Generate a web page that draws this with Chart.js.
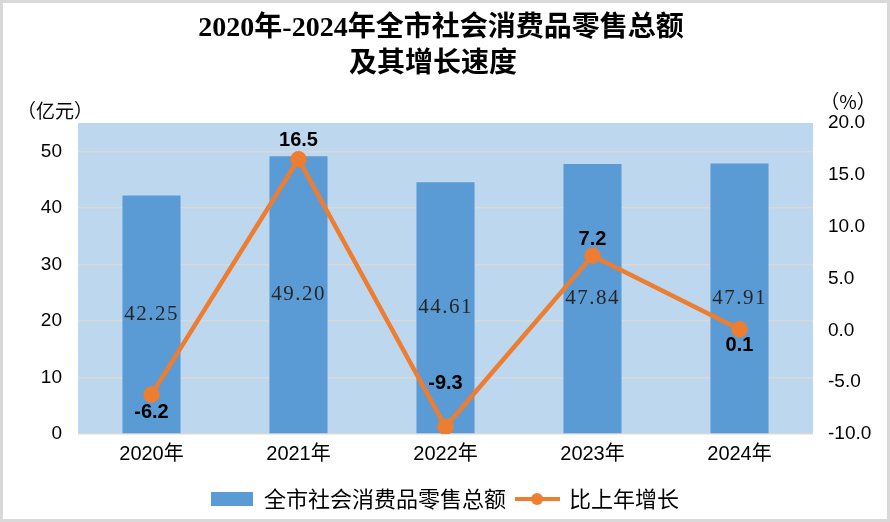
<!DOCTYPE html>
<html>
<head>
<meta charset="utf-8">
<script src="https://cdn.jsdelivr.net/npm/chart.js@4"></script>
<style>
  html, body { margin: 0; padding: 0; background: #fff; }
  #wrap { position: relative; width: 890px; height: 522px; }
</style>
</head>
<body>
<div id="wrap"><canvas id="chart" width="890" height="522"></canvas></div>
<script>
// 数据
const years = ["2020年", "2021年", "2022年", "2023年", "2024年"];
const retailSales = [42.25, 49.20, 44.61, 47.84, 47.91]; // 亿元
const growthRate = [-6.2, 16.5, -9.3, 7.2, 0.1]; // %
const leftTicks = [0, 10, 20, 30, 40, 50];
const rightTicks = [-10, -5, 0, 5, 10, 15, 20];

const titleLines = ["2020年-2024年全市社会消费品零售总额", "及其增长速度"];
const seriesNames = ["全市社会消费品零售总额", "比上年增长"];

const BAR_COLOR = "#5B9BD5";
const LINE_COLOR = "#ED7D31";
const SANS = '"Liberation Sans", "Noto Sans CJK SC", sans-serif';
const CJK = '"Noto Sans CJK SC", "Liberation Sans", sans-serif';

// 图例里折线的小图标
function lineSwatch() {
  const c = document.createElement("canvas");
  c.width = 45;
  c.height = 14;
  const g = c.getContext("2d");
  g.strokeStyle = LINE_COLOR;
  g.lineWidth = 4;
  g.beginPath();
  g.moveTo(0, 7);
  g.lineTo(45, 7);
  g.stroke();
  g.fillStyle = LINE_COLOR;
  g.beginPath();
  g.arc(22.5, 7, 6, 0, Math.PI * 2);
  g.fill();
  return c;
}
const lineIcon = lineSwatch();

const ctx = document.getElementById("chart").getContext("2d");

new Chart(ctx, {
  data: {
    labels: years,
    datasets: [
      {
        type: "line",
        label: seriesNames[1],
        data: growthRate,
        yAxisID: "y1",
        borderColor: LINE_COLOR,
        backgroundColor: LINE_COLOR,
        borderWidth: 4.5,
        pointRadius: 6,
        pointHoverRadius: 6,
        tension: 0,
        order: 0,
      },
      {
        type: "bar",
        label: seriesNames[0],
        data: retailSales,
        yAxisID: "y",
        backgroundColor: BAR_COLOR,
        categoryPercentage: 1,
        barPercentage: 0.395,
        order: 1,
      },
    ],
  },
  options: {
    responsive: false,
    animation: false,
    layout: { padding: { top: 123, left: 0, right: 0, bottom: 2 } },
    plugins: {
      title: { display: false },
      tooltip: { enabled: false },
      legend: {
        position: "bottom",
        reverse: true,
        labels: {
          usePointStyle: true,
          pointStyleWidth: 42,
          boxHeight: 14,
          padding: 10,
          color: "#000",
          font: { family: CJK, size: 22 },
          generateLabels: (chart) =>
            chart.data.datasets.map((ds, i) => ({
              text: ds.label,
              datasetIndex: i,
              fillStyle: ds.type === "bar" ? BAR_COLOR : LINE_COLOR,
              strokeStyle: ds.type === "bar" ? BAR_COLOR : LINE_COLOR,
              lineWidth: 0,
              pointStyle: ds.type === "bar" ? "rect" : lineIcon,
              fontColor: "#000",
            })),
        },
      },
    },
    scales: {
      x: {
        grid: { display: false, drawTicks: false },
        border: { display: false },
        ticks: { color: "#000", padding: 8, font: { family: SANS, size: 20 } },
        afterFit: (s) => { s.height = 44; },
      },
      y: {
        position: "left",
        min: 0,
        max: 55.1,
        afterBuildTicks: (s) => { s.ticks = leftTicks.map((v) => ({ value: v })); },
        grid: { color: "#D9D9D9", lineWidth: 1.5, drawTicks: false },
        border: { display: false },
        ticks: { color: "#000", padding: 16, font: { family: SANS, size: 19 } },
        afterFit: (s) => { s.width = 78; },
      },
      y1: {
        position: "right",
        min: -10,
        max: 20,
        afterBuildTicks: (s) => { s.ticks = rightTicks.map((v) => ({ value: v })); },
        grid: { display: false, drawTicks: false },
        border: { display: false },
        ticks: {
          color: "#000",
          padding: 15,
          font: { family: SANS, size: 19 },
          callback: (v) => Number(v).toFixed(1),
        },
        afterFit: (s) => { s.width = 77; },
      },
    },
  },
  plugins: [
    {
      id: "frameAndTitle",
      beforeDraw: (chart) => {
        const { ctx, chartArea } = chart;
        ctx.save();
        ctx.fillStyle = "#fff";
        ctx.fillRect(0, 0, chart.width, chart.height);
        // 外框
        ctx.strokeStyle = "#D9D9D9";
        ctx.lineWidth = 3;
        ctx.strokeRect(1.5, 1.5, chart.width - 3, chart.height - 3);
        // 绘图区底色
        ctx.fillStyle = "#BDD7EE";
        ctx.fillRect(chartArea.left, chartArea.top, chartArea.right - chartArea.left, chartArea.bottom - chartArea.top);
        // 标题
        ctx.fillStyle = "#000";
        ctx.textAlign = "center";
        ctx.textBaseline = "middle";
        ctx.font = 'bold 28px "Liberation Serif", "Noto Sans CJK SC", serif';
        ctx.fillText(titleLines[0], 441, 29);
        ctx.fillText(titleLines[1], 433, 65);
        // 单位
        ctx.font = '19px "Noto Sans CJK SC", sans-serif';
        ctx.fillText("（亿元）", 55, 111);
        ctx.fillText("（%）", 848, 102);
        ctx.restore();
      },
    },
    {
      id: "valueLabels",
      afterDatasetsDraw: (chart) => {
        const { ctx } = chart;
        ctx.save();
        ctx.textAlign = "center";
        ctx.textBaseline = "middle";

        // 柱内数值
        const barMeta = chart.getDatasetMeta(1);
        ctx.fillStyle = "#262626";
        ctx.font = '21px "Liberation Serif", serif';
        ctx.letterSpacing = "1.5px";
        barMeta.data.forEach((bar, i) => {
          ctx.fillText(retailSales[i].toFixed(2), bar.x, (bar.y + bar.base) / 2);
        });

        // 折线数值
        const lineMeta = chart.getDatasetMeta(0);
        const offsets = [18, -19, -43, -16, 16];
        ctx.letterSpacing = "0px";
        ctx.fillStyle = "#000";
        ctx.font = 'bold 20px "Liberation Sans", sans-serif';
        lineMeta.data.forEach((pt, i) => {
          ctx.fillText(growthRate[i].toFixed(1), pt.x, pt.y + offsets[i]);
        });
        ctx.restore();
      },
    },
  ],
});
</script>
</body>
</html>
